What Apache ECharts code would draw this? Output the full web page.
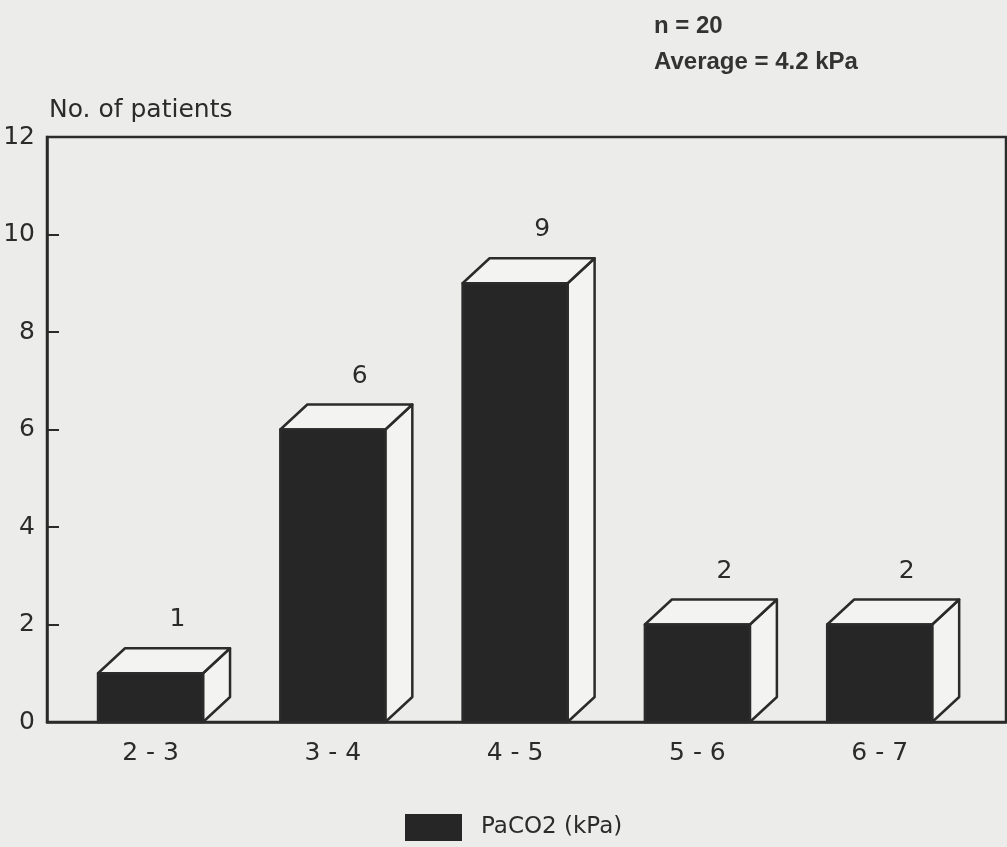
<!DOCTYPE html>
<html>
<head>
<meta charset="utf-8">
<script src="https://cdn.jsdelivr.net/npm/echarts@6/dist/echarts.min.js"></script>
<style>
  html, body { margin: 0; padding: 0; background: #ececea; }
  #chart { width: 1007px; height: 847px; }
</style>
</head>
<body>
<div id="chart"></div>
<script>
// PaCO2 ranges (kPa) and number of patients in each range
const categories = ['2 - 3', '3 - 4', '4 - 5', '5 - 6', '6 - 7'];
const patients = [1, 6, 9, 2, 2];
const yMin = 0, yMax = 12, yStep = 2;
const seriesName = 'PaCO2 (kPa)';
const noteLines = ['n = 20', 'Average = 4.2 kPa'];

const INK = '#2b2b2b';
const FACE = '#262626';
const PAPER = '#f3f3f1';
const FONT = '"DejaVu Sans", sans-serif';
const NOTE_FONT = '"Liberation Sans", Arial, sans-serif';
const HALF = 0.288;      // half width of a bar's front face, in category units
const DX = 27, DY = 25;  // oblique depth of each box

const chart = echarts.init(document.getElementById('chart'));

function renderBox(params, api) {
  const i = api.value(0);
  const v = api.value(1);
  const tl = api.coord([i - HALF, v]);
  const br = api.coord([i + HALF, 0]);
  const x0 = tl[0], y0 = tl[1], x1 = br[0], y1 = br[1];
  const stroke = { stroke: INK, lineWidth: 2.5, lineJoin: 'round' };
  return {
    type: 'group',
    children: [
      {
        type: 'polygon',
        shape: { points: [[x1, y0], [x1 + DX, y0 - DY], [x1 + DX, y1 - DY], [x1, y1]] },
        style: Object.assign({ fill: PAPER }, stroke)
      },
      {
        type: 'polygon',
        shape: { points: [[x0, y0], [x0 + DX, y0 - DY], [x1 + DX, y0 - DY], [x1, y0]] },
        style: Object.assign({ fill: PAPER }, stroke)
      },
      {
        type: 'rect',
        shape: { x: x0, y: y0, width: x1 - x0, height: y1 - y0 },
        style: Object.assign({ fill: FACE }, stroke)
      },
      {
        type: 'text',
        x: (x0 + x1) / 2 + DX,
        y: y0 - DY - 16,
        style: {
          text: String(v),
          fill: INK,
          font: '25px ' + FONT,
          align: 'center',
          verticalAlign: 'bottom'
        }
      }
    ]
  };
}

chart.setOption({
  backgroundColor: '#ececea',
  animation: false,
  title: [
    {
      text: 'No. of patients', left: 44, top: 93,
      textStyle: { fontFamily: FONT, fontSize: 25, fontWeight: 'normal', color: INK }
    },
    {
      text: noteLines[0], left: 649, top: 9,
      textStyle: { fontFamily: NOTE_FONT, fontSize: 24, fontWeight: 'bold', color: '#333' }
    },
    {
      text: noteLines[1], left: 649, top: 45,
      textStyle: { fontFamily: NOTE_FONT, fontSize: 24, fontWeight: 'bold', color: '#333' }
    }
  ],
  legend: {
    data: [seriesName],
    left: 400, top: 809,
    icon: 'rect',
    itemWidth: 57, itemHeight: 27,
    textStyle: { fontFamily: FONT, fontSize: 23, color: INK, padding: [0, 0, 0, 14] }
  },
  grid: {
    left: 47, right: 1, top: 137, bottom: 125,
    show: true, borderColor: INK, borderWidth: 2.5, backgroundColor: 'transparent'
  },
  xAxis: {
    type: 'value',
    min: -0.568, max: 4.693,
    splitLine: { show: false },
    axisTick: { show: false },
    axisLine: { show: true, onZero: false, lineStyle: { color: INK, width: 2.5 } },
    axisLabel: {
      customValues: categories.map((c, k) => k),
      formatter: (val) => categories[Math.round(val)],
      margin: 19,
      fontFamily: FONT, fontSize: 25, color: INK
    }
  },
  yAxis: {
    type: 'value',
    min: yMin, max: yMax, interval: yStep,
    splitLine: { show: false },
    axisLine: { show: true, onZero: false, lineStyle: { color: INK, width: 2.5 } },
    axisTick: { show: true, inside: true, length: 12, lineStyle: { color: INK, width: 2 } },
    axisLabel: { margin: 12, fontFamily: FONT, fontSize: 25, color: INK }
  },
  series: [{
    name: seriesName,
    type: 'custom',
    renderItem: renderBox,
    itemStyle: { color: FACE },
    data: patients.map((p, k) => [k, p]),
    clip: false
  }]
});
</script>
</body>
</html>
